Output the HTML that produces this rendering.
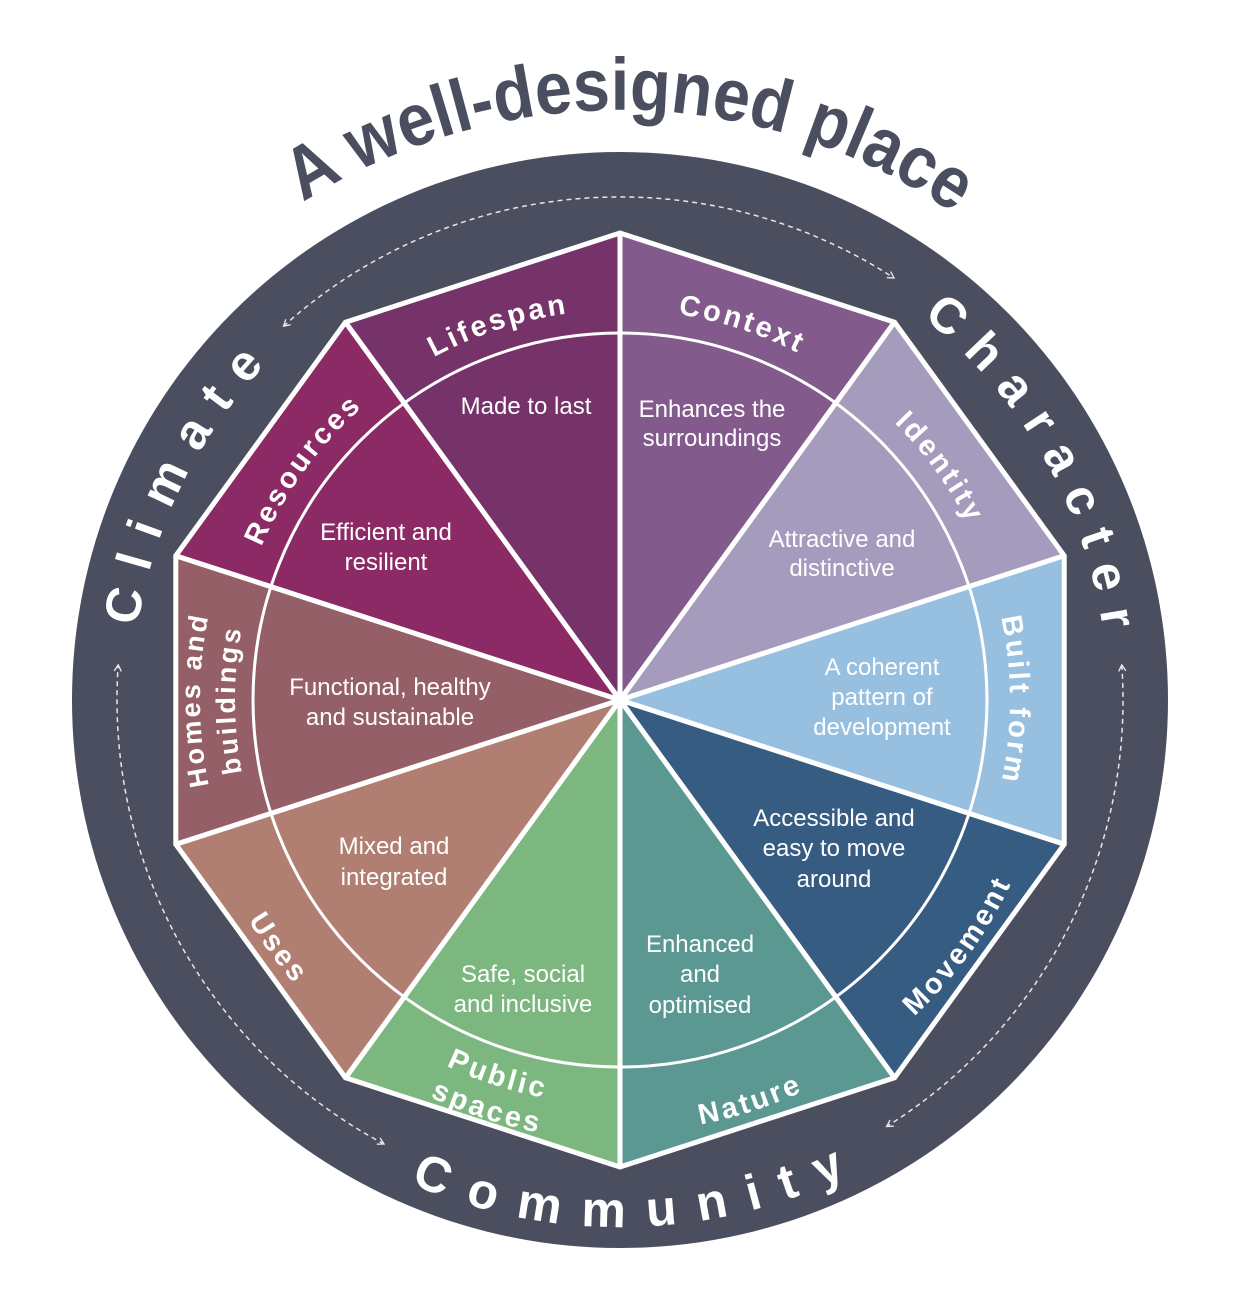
<!DOCTYPE html>
<html><head><meta charset="utf-8"><style>
html,body{margin:0;padding:0;background:#fff;}
svg{display:block;}
text{font-family:"Liberation Sans",sans-serif;}
.o{font-size:29px;font-weight:bold;fill:#fff;letter-spacing:3px;}
.i{font-size:24px;fill:#fff;text-anchor:middle;}
.r{font-size:50px;font-weight:bold;fill:#fff;}
</style></head><body>
<svg width="1236" height="1306" viewBox="0 0 1236 1306" xmlns="http://www.w3.org/2000/svg">
<defs>
<path id="c390" d="M620,1090 A390,390 0 1 1 620,310 A390,390 0 1 1 620,1090"/>
<path id="c420" d="M620,1120 A420,420 0 1 1 620,280 A420,420 0 1 1 620,1120"/>
<path id="c385" d="M620,1085 A385,385 0 1 1 620,315 A385,385 0 1 1 620,1085"/>
<path id="c488" d="M620,1188 A488,488 0 1 1 620,212 A488,488 0 1 1 620,1188"/>
<path id="c590" d="M620,1290 A590,590 0 1 1 620,110 A590,590 0 1 1 620,1290"/>
<path id="w432" d="M620,268 A432,432 0 1 0 620,1132 A432,432 0 1 0 620,268"/>
<path id="w405" d="M620,295 A405,405 0 1 0 620,1105 A405,405 0 1 0 620,295"/>
<path id="w440" d="M620,260 A440,440 0 1 0 620,1140 A440,440 0 1 0 620,260"/>
<path id="w527" d="M620,173 A527,527 0 1 0 620,1227 A527,527 0 1 0 620,173"/>
<marker id="ar" viewBox="0 0 10 10" refX="8" refY="5" markerWidth="9" markerHeight="9" orient="auto-start-reverse" markerUnits="userSpaceOnUse"><path d="M1,1 L8,5 L1,9" fill="none" stroke="#e6e6ea" stroke-width="1.5"/></marker>
</defs>

<circle cx="620" cy="700" r="548" fill="#4a4e5f"/>

<g stroke="#fff" stroke-width="5" stroke-linejoin="round">
<polygon points="620,700 620,233 894.5,322.2" fill="#835a8c"/>
<polygon points="620,700 894.5,322.2 1064.2,555.7" fill="#a49bbd"/>
<polygon points="620,700 1064.2,555.7 1064.2,844.3" fill="#97bfe0"/>
<polygon points="620,700 1064.2,844.3 894.5,1077.8" fill="#365c82"/>
<polygon points="620,700 894.5,1077.8 620,1167" fill="#5c9892"/>
<polygon points="620,700 620,1167 345.5,1077.8" fill="#7db780"/>
<polygon points="620,700 345.5,1077.8 175.8,844.3" fill="#b07f72"/>
<polygon points="620,700 175.8,844.3 175.8,555.7" fill="#945f66"/>
<polygon points="620,700 175.8,555.7 345.5,322.2" fill="#8b2a64"/>
<polygon points="620,700 345.5,322.2 620,233" fill="#76336a"/>
</g>
<circle cx="620" cy="700" r="367" fill="none" stroke="#fff" stroke-width="3"/>

<g fill="none" stroke="#e6e6ea" stroke-width="1.5" stroke-dasharray="5 4" marker-start="url(#ar)" marker-end="url(#ar)">
<path d="M283.5,326.2 A503,503 0 0 1 894,278"/>
<path d="M1121.8,664.9 A503,503 0 0 1 886.6,1126.5"/>
<path d="M384,1144 A503,503 0 0 1 118.2,664.9"/>
</g>

<text style="font-size:74px;font-weight:bold;fill:#4a4e5f" transform="rotate(1,620,700)"><textPath href="#c590" startOffset="50%" text-anchor="middle" textLength="690" lengthAdjust="spacingAndGlyphs">A well-designed place</textPath></text>

<text class="r" transform="rotate(296,620,700)"><textPath href="#c488" startOffset="50%" text-anchor="middle" textLength="295" lengthAdjust="spacing">Climate</textPath></text>
<text class="r" transform="rotate(60,620,700)"><textPath href="#c488" startOffset="50%" text-anchor="middle" textLength="370" lengthAdjust="spacing">Character</textPath></text>
<text class="r" transform="rotate(-1,620,700)"><textPath href="#w527" startOffset="50%" text-anchor="middle" textLength="450" lengthAdjust="spacing">Community</textPath></text>

<text class="o" transform="rotate(-18,620,700)"><textPath href="#c390" startOffset="50%" text-anchor="middle">Lifespan</textPath></text>
<text class="o" transform="rotate(18,620,700)"><textPath href="#c390" startOffset="50%" text-anchor="middle">Context</textPath></text>
<text class="o" transform="rotate(54,620,700)"><textPath href="#c390" startOffset="50%" text-anchor="middle">Identity</textPath></text>
<text class="o" transform="rotate(90,620,700)"><textPath href="#c390" startOffset="50%" text-anchor="middle">Built form</textPath></text>
<text class="o" transform="rotate(-54,620,700)"><textPath href="#w432" startOffset="50%" text-anchor="middle">Movement</textPath></text>
<text class="o" transform="rotate(-18,620,700)"><textPath href="#w432" startOffset="50%" text-anchor="middle">Nature</textPath></text>
<text class="o" transform="rotate(18,620,700)"><textPath href="#w405" startOffset="50%" text-anchor="middle">Public</textPath></text>
<text class="o" transform="rotate(18,620,700)"><textPath href="#w440" startOffset="50%" text-anchor="middle">spaces</textPath></text>
<text class="o" transform="rotate(54,620,700)"><textPath href="#w432" startOffset="50%" text-anchor="middle">Uses</textPath></text>
<text class="o" style="font-size:27px" transform="rotate(-90,620,700)"><textPath href="#c420" startOffset="50%" text-anchor="middle">Homes and</textPath></text>
<text class="o" style="font-size:27px" transform="rotate(-90,620,700)"><textPath href="#c385" startOffset="50%" text-anchor="middle">buildings</textPath></text>
<text class="o" transform="rotate(-54,620,700)"><textPath href="#c390" startOffset="50%" text-anchor="middle">Resources</textPath></text>

<text class="i" x="526" y="414">Made to last</text>
<text class="i" x="712" y="417">Enhances the</text><text class="i" x="712" y="446">surroundings</text>
<text class="i" x="842" y="547">Attractive and</text><text class="i" x="842" y="576">distinctive</text>
<text class="i" x="882" y="675">A coherent</text><text class="i" x="882" y="705">pattern of</text><text class="i" x="882" y="735">development</text>
<text class="i" x="834" y="826">Accessible and</text><text class="i" x="834" y="856">easy to move</text><text class="i" x="834" y="887">around</text>
<text class="i" x="700" y="952">Enhanced</text><text class="i" x="700" y="982">and</text><text class="i" x="700" y="1013">optimised</text>
<text class="i" x="523" y="982">Safe, social</text><text class="i" x="523" y="1012">and inclusive</text>
<text class="i" x="394" y="854">Mixed and</text><text class="i" x="394" y="885">integrated</text>
<text class="i" x="390" y="695">Functional, healthy</text><text class="i" x="390" y="725">and sustainable</text>
<text class="i" x="386" y="540">Efficient and</text><text class="i" x="386" y="570">resilient</text>
</svg>
</body></html>
